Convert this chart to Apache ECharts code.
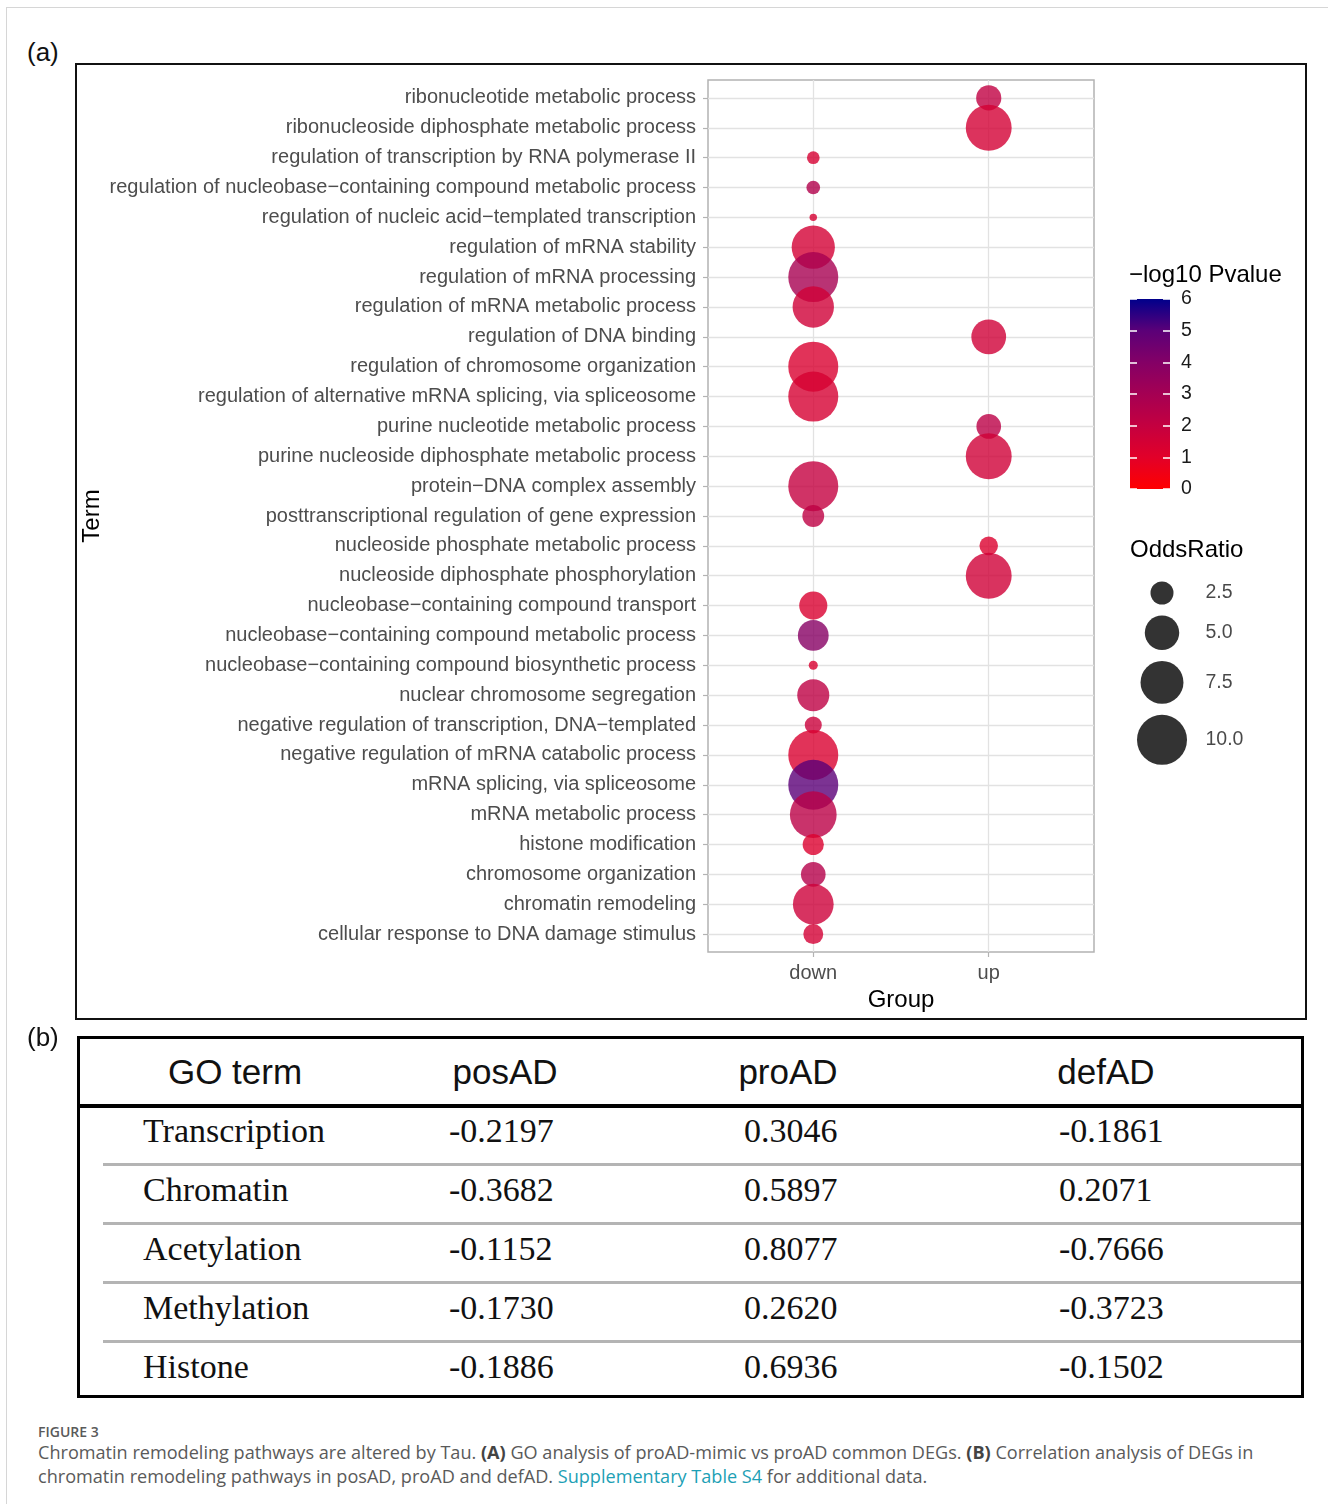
<!DOCTYPE html>
<html>
<head>
<meta charset="utf-8">
<title>Figure 3</title>
<script src="https://cdn.jsdelivr.net/npm/echarts@6/dist/echarts.min.js"></script>
<style>
  body { margin: 0; background: #fff; }
  .page { position: relative; width: 1328px; height: 1504px; overflow: hidden; font-family: 'Liberation Sans', Arial, sans-serif; }
  .frame { position: absolute; left: 6px; top: 7px; width: 1340px; height: 1520px; border-left: 1px solid #d6d6d6; border-top: 1px solid #d6d6d6; }
  .tag { position: absolute; left: 27px; font-size: 26px; line-height: 30px; color: #111; }
  .panelA { position: absolute; left: 75px; top: 63px; width: 1228px; height: 953px; border: 2px solid #111; }
  #chart { position: absolute; left: 0; top: 0; width: 1328px; height: 1030px; }
  .tbl { position: absolute; left: 77px; top: 1036px; width: 1221px; height: 356px; border: 3px solid #000; }
  .tbl div { position: absolute; white-space: nowrap; }
  .head { font-family: 'Liberation Sans', Arial, sans-serif; font-size: 35px; line-height: 40px; color: #111; transform: translateX(-50%); }
  .cell { font-family: 'Liberation Serif', 'Times New Roman', serif; font-size: 34px; line-height: 40px; color: #111; }
  .thick { left: 0; right: 0; height: 4px; background: #000; }
  .sep { left: 23px; right: 0; height: 3px; background: #b4b4b4; }
  .caption { position: absolute; left: 38px; top: 1424px; font-family: 'Open Sans', sans-serif; color: #5a5a5a; }
  .caption .fig { font-size: 14px; font-weight: 600; line-height: 16px; }
  .caption .txt { font-size: 18.1px; line-height: 24px; }
  .caption b { font-weight: 700; color: #444; }
  .caption .link { color: #1d9fb5; }
</style>
</head>
<body>
<div class="page">
  <div class="frame"></div>
  <div class="tag" style="top:37px">(a)</div>
  <div class="panelA"></div>
  <div id="chart"></div>
  <div class="tag" style="top:1022px">(b)</div>
  <div class="tbl" id="tbl"></div>
  <div class="caption">
    <div class="fig">FIGURE 3</div>
    <div class="txt">Chromatin remodeling pathways are altered by Tau. <b>(A)</b> GO analysis of proAD-mimic vs proAD common DEGs. <b>(B)</b> Correlation analysis of DEGs in<br>chromatin remodeling pathways in posAD, proAD and defAD. <span class="link">Supplementary Table S4</span> for additional data.</div>
  </div>
</div>
<script>
// GO terms, top to bottom
const terms = [
  'ribonucleotide metabolic process',
  'ribonucleoside diphosphate metabolic process',
  'regulation of transcription by RNA polymerase II',
  'regulation of nucleobase−containing compound metabolic process',
  'regulation of nucleic acid−templated transcription',
  'regulation of mRNA stability',
  'regulation of mRNA processing',
  'regulation of mRNA metabolic process',
  'regulation of DNA binding',
  'regulation of chromosome organization',
  'regulation of alternative mRNA splicing, via spliceosome',
  'purine nucleotide metabolic process',
  'purine nucleoside diphosphate metabolic process',
  'protein−DNA complex assembly',
  'posttranscriptional regulation of gene expression',
  'nucleoside phosphate metabolic process',
  'nucleoside diphosphate phosphorylation',
  'nucleobase−containing compound transport',
  'nucleobase−containing compound metabolic process',
  'nucleobase−containing compound biosynthetic process',
  'nuclear chromosome segregation',
  'negative regulation of transcription, DNA−templated',
  'negative regulation of mRNA catabolic process',
  'mRNA splicing, via spliceosome',
  'mRNA metabolic process',
  'histone modification',
  'chromosome organization',
  'chromatin remodeling',
  'cellular response to DNA damage stimulus'
]
const groups = ['down', 'up']
const termGroup = ['up', 'up', 'down', 'down', 'down', 'down', 'down', 'down', 'up', 'down',
  'down', 'up', 'up', 'down', 'down', 'up', 'up', 'down', 'down', 'down',
  'down', 'down', 'down', 'down', 'down', 'down', 'down', 'down', 'down']
const oddsRatio = [2.9, 8.5, 1.1, 1.2, 0.7, 7.6, 10.0, 7.0, 5.1, 10.0,
  10.0, 2.8, 8.5, 10.0, 2.3, 1.8, 8.5, 3.5, 4.1, 0.8,
  4.4, 1.6, 10.0, 10.0, 8.8, 2.2, 2.8, 6.8, 2.0]
const negLog10P = [2.1, 1.5, 1.4, 2.6, 1.4, 1.5, 2.9, 1.6, 1.6, 1.3,
  1.4, 2.3, 1.6, 2.0, 2.2, 1.2, 1.6, 1.3, 3.9, 1.3,
  2.2, 1.8, 1.3, 5.0, 2.3, 1.2, 2.5, 1.7, 1.5]

// legends
const pvalueTicks = [0, 1, 2, 3, 4, 5, 6]
const sizeBreaks = [2.5, 5.0, 7.5, 10.0]

// table (b)
const tableHeader = ['GO term', 'posAD', 'proAD', 'defAD']
const tableTerms = ['Transcription', 'Chromatin', 'Acetylation', 'Methylation', 'Histone']
const posAD = [-0.2197, -0.3682, -0.1152, -0.1730, -0.1886]
const proAD = [0.3046, 0.5897, 0.8077, 0.2620, 0.6936]
const defAD = [-0.1861, 0.2071, -0.7666, -0.3723, -0.1502]

// red -> darkblue gradient (Lab interpolated, like ggplot)
const pvalueColors = ['#FF0000', '#E20029', '#C40040', '#A50053', '#840066', '#5B0078', '#00008B']

// area scale for OddsRatio: diameter 23px at 2.5, 50px at 10
const sizeA = 23 * 23, sizeB = 50 * 50
function bubbleSize(v) {
  const area = sizeA + (sizeB - sizeA) * (v - 2.5) / 7.5
  return Math.sqrt(Math.max(area, 0))
}

const axisGrey = '#b3b3b3'
const gridGrey = '#e2e2e2'
const labelGrey = '#4d4d4d'
const expand = 0.6

const bubbles = terms.map((t, i) => [groups.indexOf(termGroup[i]) + 1, i, oddsRatio[i], negLog10P[i]])

// size legend key positions, stacked by key size
const keyGap = 11
const keyY = []
sizeBreaks.forEach((v, i) => {
  if (i === 0) keyY.push(0)
  else keyY.push(keyY[i - 1] + bubbleSize(sizeBreaks[i - 1]) / 2 + bubbleSize(v) / 2 + keyGap)
})

const chart = echarts.init(document.getElementById('chart'))
const option = {
  animation: false,
  textStyle: { fontFamily: 'Liberation Sans, Arial, sans-serif' },
  title: [
    { text: '−log10 Pvalue', left: 1129, top: 263, padding: 0, textStyle: { fontSize: 24, fontWeight: 'normal', color: '#000' } },
    { text: 'OddsRatio', left: 1130, top: 538, padding: 0, textStyle: { fontSize: 24, fontWeight: 'normal', color: '#000' } }
  ],
  grid: [
    { left: 708, top: 80, width: 386, height: 872, show: true, borderColor: axisGrey, borderWidth: 1.5 },
    { left: 1130, top: 299, width: 40, height: 190 },
    { left: 1130, top: 563, width: 150, height: 220 }
  ],
  xAxis: [
    {
      type: 'value',
      gridIndex: 0,
      min: 1 - expand,
      max: groups.length + expand,
      axisLine: { show: false, onZero: false },
      axisTick: { show: true, customValues: [1, 2], length: 5, lineStyle: { color: axisGrey, width: 1.2 } },
      axisLabel: { customValues: [1, 2], formatter: (v) => groups[Math.round(v) - 1], fontSize: 20, color: labelGrey, margin: 11 },
      splitLine: { show: true, lineStyle: { color: gridGrey, width: 1.3 } },
      name: 'Group',
      nameLocation: 'middle',
      nameGap: 35,
      nameTextStyle: { fontSize: 24, color: '#000' }
    },
    { type: 'category', gridIndex: 1, data: ['bar'], show: false },
    { type: 'value', gridIndex: 2, min: 0, max: 150, show: false }
  ],
  yAxis: [
    {
      type: 'value',
      gridIndex: 0,
      inverse: true,
      min: -expand,
      max: terms.length - 1 + expand,
      axisLine: { show: false, onZero: false },
      axisTick: { show: true, customValues: terms.map((t, i) => i), length: 5, lineStyle: { color: axisGrey, width: 1.2 } },
      axisLabel: { customValues: terms.map((t, i) => i), formatter: (v) => terms[Math.round(v)], fontSize: 20, color: labelGrey, margin: 12, padding: [3, 0, 0, 0] },
      splitLine: { show: true, lineStyle: { color: gridGrey, width: 1.3 } },
      name: 'Term',
      nameLocation: 'middle',
      nameRotate: 90,
      nameGap: 604,
      nameTextStyle: { fontSize: 24, color: '#000' }
    },
    {
      type: 'value',
      gridIndex: 1,
      position: 'right',
      min: 0,
      max: pvalueTicks[pvalueTicks.length - 1],
      interval: 1,
      z: 5,
      axisLine: { show: false, onZero: false },
      axisTick: { show: true, inside: true, length: 7, lineStyle: { color: '#fff', width: 1.5 } },
      axisLabel: { fontSize: 19.5, color: '#1a1a1a', margin: 11, padding: [2, 0, 0, 0] },
      splitLine: { show: false }
    },
    {
      type: 'value',
      gridIndex: 1,
      position: 'left',
      min: 0,
      max: pvalueTicks[pvalueTicks.length - 1],
      interval: 1,
      z: 5,
      axisLine: { show: false, onZero: false },
      axisTick: { show: true, inside: true, length: 7, lineStyle: { color: '#fff', width: 1.5 } },
      axisLabel: { show: false },
      splitLine: { show: false }
    },
    { type: 'value', gridIndex: 2, min: -30, max: 190, inverse: true, show: false }
  ],
  visualMap: {
    type: 'continuous',
    show: false,
    seriesIndex: 0,
    dimension: 3,
    min: pvalueTicks[0],
    max: pvalueTicks[pvalueTicks.length - 1],
    inRange: { color: pvalueColors }
  },
  series: [
    {
      // bubbles
      type: 'scatter',
      xAxisIndex: 0,
      yAxisIndex: 0,
      data: bubbles,
      symbolSize: (val) => bubbleSize(val[2]),
      itemStyle: { opacity: 0.8 },
      silent: true
    },
    {
      // colour bar
      type: 'bar',
      xAxisIndex: 1,
      yAxisIndex: 1,
      data: [pvalueTicks[pvalueTicks.length - 1]],
      barWidth: '100%',
      z: 1,
      silent: true,
      itemStyle: {
        color: new echarts.graphic.LinearGradient(0, 1, 0, 0,
          pvalueColors.map((c, i) => ({ offset: i / (pvalueColors.length - 1), color: c })))
      }
    },
    {
      // size legend keys
      type: 'scatter',
      xAxisIndex: 2,
      yAxisIndex: 3,
      data: sizeBreaks.map((v, i) => [32, keyY[i], v]),
      symbolSize: (val) => bubbleSize(val[2]),
      itemStyle: { color: '#000', opacity: 0.8 },
      silent: true
    },
    {
      // size legend labels
      type: 'scatter',
      xAxisIndex: 2,
      yAxisIndex: 3,
      data: sizeBreaks.map((v, i) => [75, keyY[i], v]),
      symbolSize: 1,
      itemStyle: { color: 'rgba(0,0,0,0)' },
      label: {
        show: true,
        position: 'right',
        distance: 0,
        formatter: (p) => p.value[2].toFixed(1),
        fontSize: 19.5,
        color: '#1a1a1a'
      },
      silent: true
    }
  ]
}
chart.setOption(option)

// table (b)
const tbl = document.getElementById('tbl')
function addDiv(cls, text, style) {
  const d = document.createElement('div')
  d.className = cls
  if (text !== null) d.textContent = text
  Object.assign(d.style, style)
  tbl.appendChild(d)
}
const headX = [155, 425, 708, 1026]
tableHeader.forEach((h, i) => addDiv('head', h, { left: headX[i] + 'px', top: '13px' }))
addDiv('thick', null, { top: '65px' })
const colX = [63, 369, 664, 979]
const rowPitch = 59
tableTerms.forEach((t, r) => {
  const cy = 92 + r * rowPitch
  const vals = [t, posAD[r].toFixed(4), proAD[r].toFixed(4), defAD[r].toFixed(4)]
  vals.forEach((v, c) => addDiv('cell', v, { left: colX[c] + 'px', top: (cy - 20) + 'px' }))
  if (r < tableTerms.length - 1) addDiv('sep', null, { top: (cy + 32) + 'px' })
})
</script>
</body>
</html>
